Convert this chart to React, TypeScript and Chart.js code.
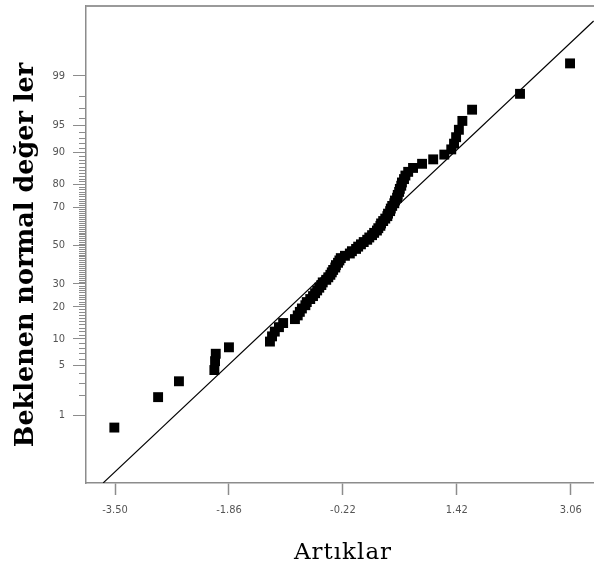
import { useEffect, useRef } from 'react';
import { Chart, registerables, LinearScale } from 'chart.js';

// ---- data ----
const residuals = [
  -3.51, -2.88, -2.58, -2.07, -2.06, -2.05, -1.86, -1.27, -1.24, -1.20,
  -1.14, -1.08, -0.91, -0.87, -0.84, -0.81, -0.76, -0.74, -0.69, -0.65,
  -0.62, -0.59, -0.56, -0.53, -0.51, -0.46, -0.43, -0.40, -0.38, -0.36,
  -0.33, -0.32, -0.29, -0.27, -0.25, -0.19, -0.12, -0.09, -0.03, 0.00,
  0.04, 0.08, 0.13, 0.16, 0.20, 0.23, 0.27, 0.29, 0.32, 0.33,
  0.36, 0.39, 0.42, 0.43, 0.46, 0.47, 0.49, 0.52, 0.53, 0.56,
  0.57, 0.59, 0.60, 0.62, 0.63, 0.66, 0.68, 0.72, 0.79, 0.92,
  1.08, 1.24, 1.34, 1.38, 1.41, 1.45, 1.50, 1.64, 2.33, 3.05,
];
const expectedPercent = [
  0.625, 1.875, 3.125, 4.375, 5.625, 6.875, 8.125, 9.375, 10.625, 11.875,
  13.125, 14.375, 15.625, 16.875, 18.125, 19.375, 20.625, 21.875, 23.125, 24.375,
  25.625, 26.875, 28.125, 29.375, 30.625, 31.875, 33.125, 34.375, 35.625, 36.875,
  38.125, 39.375, 40.625, 41.875, 43.125, 44.375, 45.625, 46.875, 48.125, 49.375,
  50.625, 51.875, 53.125, 54.375, 55.625, 56.875, 58.125, 59.375, 60.625, 61.875,
  63.125, 64.375, 65.625, 66.875, 68.125, 69.375, 70.625, 71.875, 73.125, 74.375,
  75.625, 76.875, 78.125, 79.375, 80.625, 81.875, 83.125, 84.375, 85.625, 86.875,
  88.125, 89.375, 90.625, 91.875, 93.125, 94.375, 95.625, 96.875, 98.125, 99.375,
];
const fitLineX = [-3.67, 3.39];
const fitLineP = [0.0565, 99.896];
const xTickValues = [-3.5, -1.86, -0.22, 1.42, 3.06];
const yMajorTicks = [1, 5, 10, 20, 30, 50, 70, 80, 90, 95, 99];
const yAllTicks = Array.from({ length: 99 }, (_, i) => i + 1);
const xMin = -3.918;
const xMax = 3.395;
const yMin = 0.0561;
const yMax = 99.949;
const xTitle = 'Artıklar';
const yTitle = 'Beklenen normal değer ler';

// ---- normal helpers ----
function probit(p: number): number {
  const a = [-3.969683028665376e1, 2.209460984245205e2, -2.759285104469687e2, 1.38357751867269e2, -3.066479806614716e1, 2.506628277459239];
  const b = [-5.447609879822406e1, 1.615858368580409e2, -1.556989798598866e2, 6.680131188771972e1, -1.328068155288572e1];
  const c = [-7.784894002430293e-3, -3.223964580411365e-1, -2.400758277161838, -2.549732539343734, 4.374664141464968, 2.938163982698783];
  const d = [7.784695709041462e-3, 3.224671290700398e-1, 2.445134137142996, 3.754408661907416];
  const pl = 0.02425;
  if (p <= 0) return -8;
  if (p >= 1) return 8;
  if (p < pl) {
    const q = Math.sqrt(-2 * Math.log(p));
    return (((((c[0] * q + c[1]) * q + c[2]) * q + c[3]) * q + c[4]) * q + c[5]) / ((((d[0] * q + d[1]) * q + d[2]) * q + d[3]) * q + 1);
  }
  if (p > 1 - pl) {
    const q = Math.sqrt(-2 * Math.log(1 - p));
    return -(((((c[0] * q + c[1]) * q + c[2]) * q + c[3]) * q + c[4]) * q + c[5]) / ((((d[0] * q + d[1]) * q + d[2]) * q + d[3]) * q + 1);
  }
  const q = p - 0.5;
  const r = q * q;
  return ((((((a[0] * r + a[1]) * r + a[2]) * r + a[3]) * r + a[4]) * r + a[5]) * q) / (((((b[0] * r + b[1]) * r + b[2]) * r + b[3]) * r + b[4]) * r + 1);
}
function normCdf(z: number): number {
  const t = 1 / (1 + 0.3275911 * Math.abs(z) / Math.SQRT2);
  const y = 1 - (((((1.061405429 * t - 1.453152027) * t) + 1.421413741) * t - 0.284496736) * t + 0.254829592) * t * Math.exp(-(z * z) / 2);
  return z >= 0 ? 0.5 * (1 + y) : 0.5 * (1 - y);
}

class ProbitScale extends LinearScale {
  static id = 'probit';
  _zmin = -3.26;
  _zmax = 3.28;
  determineDataLimits() {
    const o: any = (this as any).options;
    (this as any).min = o.min;
    (this as any).max = o.max;
  }
  buildTicks() {
    return yAllTicks.map((v) => ({ value: v }));
  }
  configure() {
    super.configure();
    this._zmin = probit((this as any).min / 100);
    this._zmax = probit((this as any).max / 100);
  }
  getPixelForValue(value: number) {
    const z = probit(value / 100);
    return (this as any).getPixelForDecimal((z - this._zmin) / (this._zmax - this._zmin));
  }
  getValueForPixel(pixel: number) {
    const dec = (this as any).getDecimalForPixel(pixel);
    return normCdf(this._zmin + dec * (this._zmax - this._zmin)) * 100;
  }
}

Chart.register(...registerables, ProbitScale as any);

const AXIS_GRAY = '#8c8c8c';
const LABEL_FONT = '"Liberation Sans Narrow", "DejaVu Sans Condensed", "Liberation Sans", sans-serif';

const zeroPadding = (s: any) => {
  s.paddingTop = 0;
  s.paddingBottom = 0;
  s.paddingLeft = 0;
  s.paddingRight = 0;
};

const framePlugin = {
  id: 'frameAndTitles',
  afterDraw(chart: any) {
    const ctx = chart.ctx as CanvasRenderingContext2D;
    const area = chart.chartArea;
    const ys = chart.scales.y;
    ctx.save();
    // minor y ticks
    ctx.beginPath();
    ctx.strokeStyle = AXIS_GRAY;
    ctx.lineWidth = 1;
    for (const v of yAllTicks) {
      if (yMajorTicks.includes(v)) continue;
      const py = Math.round(ys.getPixelForValue(v)) + 0.5;
      ctx.moveTo(area.left - 7, py);
      ctx.lineTo(area.left, py);
    }
    ctx.stroke();
    // top border
    ctx.beginPath();
    ctx.strokeStyle = '#9a9a9a';
    ctx.lineWidth = 2;
    ctx.moveTo(area.left, area.top);
    ctx.lineTo(area.right, area.top);
    ctx.stroke();
    // titles
    ctx.fillStyle = '#000';
    ctx.font = 'bold 25.5px "DejaVu Serif", serif';
    ctx.textAlign = 'center';
    ctx.textBaseline = 'alphabetic';
    ctx.save();
    ctx.translate(33, 255);
    ctx.rotate(-Math.PI / 2);
    ctx.fillText(yTitle, 0, 0);
    ctx.restore();
    ctx.font = '23px "DejaVu Serif", serif';
    try {
      (ctx as any).letterSpacing = '1px';
    } catch (e) {
      /* ignore */
    }
    ctx.fillText(xTitle, 343, 559);
    ctx.restore();
  },
};

export default function App() {
  const canvasRef = useRef<HTMLCanvasElement | null>(null);
  useEffect(() => {
    const canvas = canvasRef.current;
    if (!canvas) return;
    const chart = new Chart(canvas, {
      type: 'scatter',
      data: {
        datasets: [
          {
            label: 'Doğru',
            data: fitLineX.map((x, i) => ({ x, y: fitLineP[i] })),
            showLine: true,
            borderColor: '#000',
            borderWidth: 1.2,
            pointRadius: 0,
            order: 2,
          } as any,
          {
            label: 'Artıklar',
            data: residuals.map((x, i) => ({ x, y: expectedPercent[i] })),
            pointStyle: 'rect',
            pointRadius: 7,
            backgroundColor: '#000',
            borderColor: '#000',
            borderWidth: 0,
            order: 1,
          } as any,
        ],
      },
      options: {
        animation: false,
        responsive: false,
        events: [],
        layout: { autoPadding: false, padding: { top: 6, right: 0, left: 0, bottom: 0 } },
        plugins: { legend: { display: false }, tooltip: { enabled: false } },
        scales: {
          x: {
            type: 'linear',
            position: 'bottom',
            min: xMin,
            max: xMax,
            afterBuildTicks: (s: any) => {
              s.ticks = xTickValues.map((v) => ({ value: v }));
            },
            afterFit: (s: any) => {
              s.height = 82;
              zeroPadding(s);
            },
            grid: { drawOnChartArea: false, tickLength: 12, tickColor: AXIS_GRAY, tickWidth: 1.5 },
            border: { color: AXIS_GRAY, width: 1.5 },
            ticks: {
              autoSkip: false,
              maxRotation: 0,
              padding: 9,
              color: '#555',
              font: { family: LABEL_FONT, size: 11 },
              callback: (v: any) => Number(v).toFixed(2),
            },
          },
          y: {
            type: 'probit' as any,
            position: 'left',
            min: yMin,
            max: yMax,
            afterFit: (s: any) => {
              s.width = 86;
              zeroPadding(s);
            },
            grid: {
              drawOnChartArea: false,
              tickLength: 13,
              tickWidth: 1,
              tickColor: (c: any) => (c.tick && yMajorTicks.includes(c.tick.value) ? AXIS_GRAY : 'rgba(0,0,0,0)'),
            },
            border: { color: AXIS_GRAY, width: 1.5 },
            ticks: {
              autoSkip: false,
              padding: 8,
              color: '#555',
              font: { family: LABEL_FONT, size: 11, lineHeight: 1 },
              callback: (v: any) => (yMajorTicks.includes(Number(v)) ? String(v) : ''),
            },
          } as any,
        },
      },
      plugins: [framePlugin],
    });
    return () => chart.destroy();
  }, []);
  return (
    <div style={{ position: 'absolute', left: 0, top: 0, width: 594, height: 565, background: '#fff' }}>
      <canvas ref={canvasRef} width={594} height={565} style={{ display: 'block' }} />
    </div>
  );
}
